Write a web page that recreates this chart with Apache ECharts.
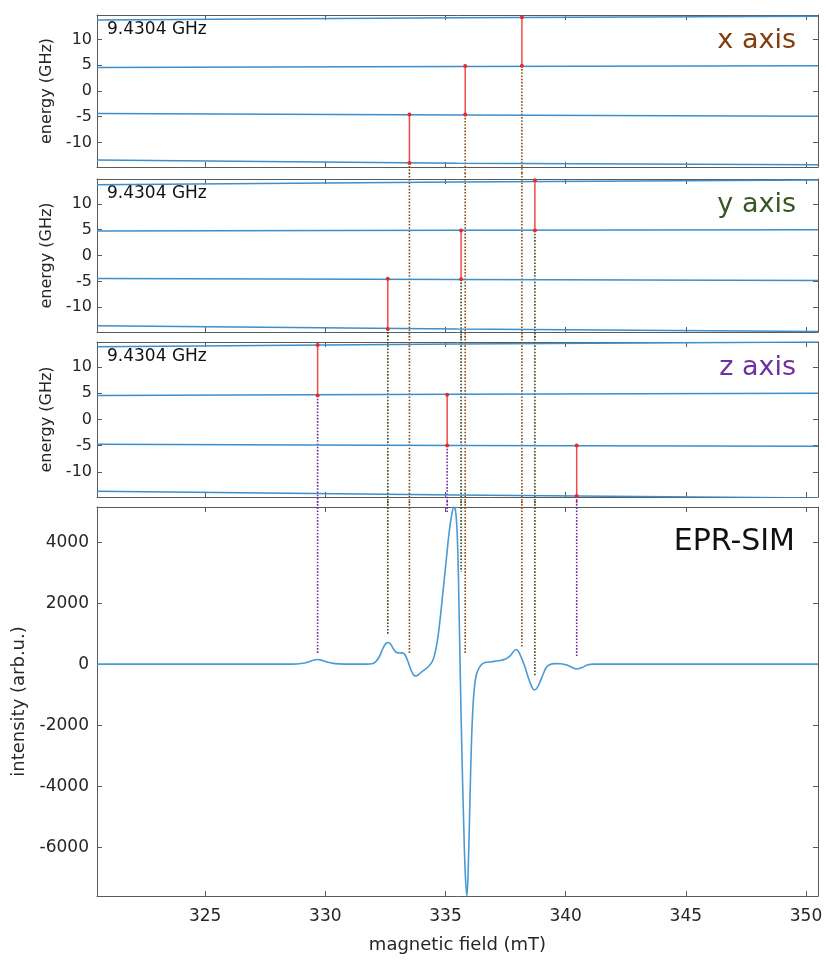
<!DOCTYPE html>
<html><head><meta charset="utf-8">
<script src="https://cdn.jsdelivr.net/npm/echarts@6/dist/echarts.min.js"></script>
<style>html,body{margin:0;padding:0;background:#fff}#c{width:826px;height:960px}</style>
</head><body><div id="c"></div>
<script>
// ---------------- data ----------------
const fieldRange = [320.5, 350.5];          // mT
const energyRange = [-14.8, 14.8];          // GHz
const intensityRange = [-7600, 5150];       // arb.u.
const frequencyLabel = '9.4304 GHz';
const panelNames = ['x axis', 'y axis', 'z axis'];
const spectrumName = 'EPR-SIM';

// energy levels (GHz) sampled at these fields
const levelFields = [320.5, 335.5, 350.5];
const levelsX = [[13.85, 14.25, 14.55], [4.6, 4.75, 4.9], [-4.4, -4.65, -4.9], [-13.45, -14.05, -14.35]];
const levelsY = [[13.7, 14.2, 14.6], [4.75, 4.88, 5.0], [-4.45, -4.65, -4.85], [-13.6, -14.2, -14.7]];
const levelsZ = [[13.9, 14.4, 14.8], [4.6, 4.8, 5.0], [-4.75, -4.95, -5.1], [-13.7, -14.4, -15.0]];

// resonance transitions: field, lower / upper level energy, spectrum intensity where the guide line stops
const transFieldX = [333.5, 335.82, 338.18];
const transLowerX = [-14.0, -4.6, 4.9];
const transUpperX = [-4.58, 4.88, 14.35];
const transEndX = [350, 350, 570];

const transFieldY = [332.6, 335.65, 338.72];
const transLowerY = [-14.2, -4.58, 4.85];
const transUpperY = [-4.52, 4.85, 14.56];
const transEndY = [950, 3030, -415];

const transFieldZ = [329.68, 335.07, 340.46];
const transLowerZ = [4.59, -4.96, -14.63];
const transUpperZ = [14.25, 4.71, -4.96];
const transEndZ = [350, 4940, 240];

// simulated EPR spectrum
const specField = [320.5, 327.0, 328.6, 329.0, 329.3, 329.5, 329.68, 329.85, 330.1, 330.4, 330.8, 331.7, 331.95, 332.1, 332.25, 332.4, 332.52, 332.63, 332.72, 332.85, 332.97, 333.1, 333.22, 333.32, 333.45, 333.58, 333.68, 333.78, 333.9, 334.05, 334.2, 334.35, 334.47, 334.57, 334.67, 334.78, 334.9, 335.03, 335.15, 335.25, 335.35, 335.43, 335.5, 335.56, 335.62, 335.68, 335.75, 335.82, 335.89, 335.95, 336.02, 336.08, 336.15, 336.22, 336.3, 336.4, 336.52, 336.65, 336.9, 337.2, 337.5, 337.7, 337.85, 337.94, 338.03, 338.15, 338.3, 338.45, 338.58, 338.7, 338.82, 338.95, 339.08, 339.2, 339.35, 339.55, 339.8, 340.05, 340.25, 340.47, 340.68, 340.9, 341.15, 342.0, 350.5];
const specIntensity = [0, 0, 0, 20, 70, 130, 150, 125, 60, 15, 0, 0, 15, 80, 250, 520, 680, 710, 650, 480, 380, 365, 370, 300, 60, -220, -360, -390, -330, -230, -140, -30, 120, 380, 800, 1500, 2400, 3400, 4300, 4850, 5150, 4950, 4000, 2000, -500, -2800, -5000, -6800, -7600, -6600, -4400, -2600, -1300, -650, -300, -120, 0, 50, 80, 110, 170, 280, 430, 480, 420, 230, -80, -450, -720, -850, -770, -550, -300, -100, -10, 15, 10, -30, -100, -160, -110, -30, 0, 0, 0];

// ---------------- styling ----------------
const FONT = 'DejaVu Sans';
const TXT = '#262626';
const AX = '#5a5a5a';
const LEVEL_COLOR = '#3d8ecc';
const SPEC_COLOR = '#4a9ad4';
const RED = '#ee4b4b';
const guideColors = ['#8c4a14', '#2f4f1f', '#6a2c9c'];
const nameColors = ['#843c0c', '#385723', '#7030a0'];

const grids = [
  {left: 97, right: 8, top: 15, height: 152},
  {left: 97, right: 8, top: 179, height: 153},
  {left: 97, right: 8, top: 342, height: 155},
  {left: 97, right: 8, top: 507, height: 389}
];

const lineAxis = {show: true, onZero: false, lineStyle: {color: AX, width: 1}};
const tick = {show: true, inside: true, length: 5, lineStyle: {color: AX, width: 1}};
const mult = (v, s) => Math.abs(v / s - Math.round(v / s)) < 1e-6;

const xAxis = [], yAxis = [];
grids.forEach((g, i) => {
  const last = i === 3;
  const xb = {type: 'value', gridIndex: i, min: fieldRange[0], max: fieldRange[1], splitNumber: 6,
    splitLine: {show: false}, axisLine: lineAxis, axisTick: tick};
  xAxis.push(Object.assign({}, xb, {position: 'bottom',
    axisLabel: last ? {show: true, margin: 12, color: TXT, fontSize: 17, fontFamily: FONT,
      formatter: v => mult(v, 5) ? String(Math.round(v)) : ''} : {show: false},
    name: last ? 'magnetic field (mT)' : '', nameLocation: 'middle', nameGap: 40,
    nameTextStyle: {color: TXT, fontSize: 18, fontFamily: FONT}}));
  xAxis.push(Object.assign({}, xb, {position: 'top', axisLabel: {show: false}}));
  const range = last ? intensityRange : energyRange;
  const step = last ? 2000 : 5;
  const yb = {type: 'value', gridIndex: i, min: range[0], max: range[1], splitNumber: 6,
    splitLine: {show: false}, axisLine: lineAxis, axisTick: tick};
  yAxis.push(Object.assign({}, yb, {position: 'left',
    axisLabel: {show: true, margin: last ? 8 : 5, color: TXT, fontSize: last ? 17 : 16, fontFamily: FONT,
      formatter: v => mult(v, step) ? String(Math.round(v)) : ''},
    name: last ? 'intensity (arb.u.)' : 'energy (GHz)', nameLocation: 'middle', nameGap: last ? 60 : 28,
    nameTextStyle: {color: TXT, fontSize: last ? 18 : 16, fontFamily: FONT}}));
  yAxis.push(Object.assign({}, yb, {position: 'right', axisLabel: {show: false}}));
});

const series = [];
const levelSets = [levelsX, levelsY, levelsZ];
levelSets.forEach((levels, p) => {
  levels.forEach(lv => {
    series.push({type: 'line', xAxisIndex: 2 * p, yAxisIndex: 2 * p, smooth: true, symbol: 'none', z: 3,
      lineStyle: {color: LEVEL_COLOR, width: 1.5}, data: levelFields.map((f, k) => [f, lv[k]])});
  });
});

const trans = [
  {field: transFieldX, lower: transLowerX, upper: transUpperX, end: transEndX},
  {field: transFieldY, lower: transLowerY, upper: transUpperY, end: transEndY},
  {field: transFieldZ, lower: transLowerZ, upper: transUpperZ, end: transEndZ}
];
const extE = 1.2, extI = 200; // guide lines cross the gaps between panels
trans.forEach((t, p) => {
  t.field.forEach((f, k) => {
    series.push({type: 'line', xAxisIndex: 2 * p, yAxisIndex: 2 * p, z: 6, symbol: 'circle', symbolSize: 4,
      itemStyle: {color: '#e52a2a'}, lineStyle: {color: RED, width: 1.5},
      data: [[f, t.lower[k]], [f, t.upper[k]]]});
    for (let q = p; q < 3; q++) {
      const top = q === p ? t.lower[k] : energyRange[1] + extE;
      series.push({type: 'line', xAxisIndex: 2 * q, yAxisIndex: 2 * q, z: 2, symbol: 'none', clip: false,
        lineStyle: {color: guideColors[p], width: 1.6, type: [1.6, 1.6]},
        data: [[f, top], [f, energyRange[0] - extE]]});
    }
    series.push({type: 'line', xAxisIndex: 6, yAxisIndex: 6, z: 2, symbol: 'none', clip: false,
      lineStyle: {color: guideColors[p], width: 1.6, type: [1.6, 1.6]},
      data: [[f, intensityRange[1] + extI], [f, t.end[k]]]});
  });
});

series.push({type: 'line', xAxisIndex: 6, yAxisIndex: 6, z: 4, symbol: 'none', smooth: 0.4,
  lineStyle: {color: SPEC_COLOR, width: 1.6},
  data: specField.map((f, k) => [f, specIntensity[k]])});

const graphic = [];
grids.slice(0, 3).forEach((g, p) => {
  graphic.push({type: 'text', left: 107, top: g.top + 6,
    style: {text: frequencyLabel, fill: '#111', font: '17px "' + FONT + '"'}});
  graphic.push({type: 'text', right: 30, top: g.top + 12,
    style: {text: panelNames[p], fill: nameColors[p], font: '27px "' + FONT + '"'}});
});
graphic.push({type: 'text', right: 31, top: 527,
  style: {text: spectrumName, fill: '#111', font: '30px "' + FONT + '"'}});

const chart = echarts.init(document.getElementById('c'));
chart.setOption({
  animation: false,
  backgroundColor: '#fff',
  grid: grids,
  xAxis, yAxis, series, graphic
});
</script>
</body></html>
